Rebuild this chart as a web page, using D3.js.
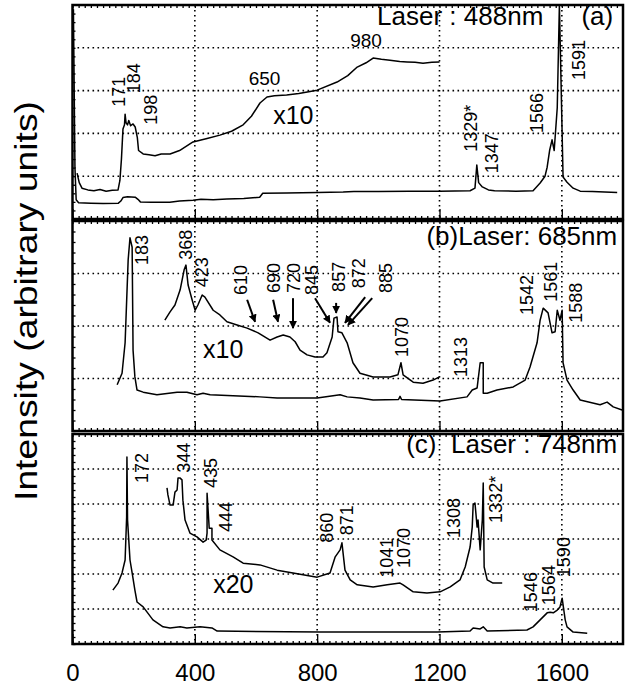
<!DOCTYPE html>
<html lang="en">
<head>
<meta charset="utf-8">
<title>Raman spectra, three laser lines</title>
<script src="https://cdn.jsdelivr.net/npm/d3@7"></script>
<style>
  body { margin: 0; background: #fff; }
  svg text { font-family: "Liberation Sans", Arial, Helvetica, sans-serif; fill: #000; }
  .grid { stroke: #000; stroke-width: 1.6; stroke-dasharray: 1.6,3.4; }
  .spec { fill: none; stroke: #000; stroke-width: 1.5; stroke-linejoin: round; }
  .frame { fill: none; stroke: #000; stroke-width: 2.5; }
  .tick line { stroke: #000; stroke-width: 1.3; }
  .domain { display: none; }
</style>
</head>
<body>
<script>

var w = 634;
var h = 687;

// wavenumber (cm-1) vs intensity, intensity in grid divisions of each panel
var xTicks = [0, 400, 800, 1200, 1600];

// (a) laser 488nm
var a_base = [[3, 4.9], [8, 1.2], [12, 0.45], [20, 0.38], [60, 0.37], [100, 0.36], [150, 0.37],
  [158, 0.42], [165, 0.5], [180, 0.52], [205, 0.51], [214, 0.46], [222, 0.4], [260, 0.39],
  [318, 0.39], [350, 0.42], [394, 0.44], [420, 0.46], [460, 0.45], [505, 0.47], [560, 0.48],
  [612, 0.51], [622, 0.6], [700, 0.61], [800, 0.62], [885, 0.63], [920, 0.64], [1000, 0.64],
  [1100, 0.65], [1200, 0.65], [1300, 0.66], [1316, 0.72], [1322, 1.26], [1328, 0.85],
  [1340, 0.75], [1360, 0.68], [1380, 0.66], [1450, 0.65], [1506, 0.66], [1529, 0.84],
  [1545, 1.0], [1552, 1.21], [1560, 1.6], [1568, 1.85], [1575, 1.6], [1585, 2.6], [1592, 5.0],
  [1598, 3.0], [1604, 0.98], [1617, 0.86], [1637, 0.72], [1660, 0.65], [1700, 0.64],
  [1740, 0.63], [1781, 0.62]];

var a_x10 = [[15, 1.07], [22, 0.85], [31, 0.72], [50, 0.68], [70, 0.66], [90, 0.69], [110, 0.65],
  [130, 0.67], [149, 0.68], [155, 0.9], [160, 1.4], [165, 2.1], [170, 2.2], [172, 2.45],
  [175, 2.25], [180, 2.2], [184, 2.3], [190, 2.18], [198, 2.22], [205, 2.15], [212, 1.9],
  [216, 1.6], [231, 1.52], [250, 1.5], [270, 1.48], [290, 1.52], [319, 1.52], [350, 1.6],
  [394, 1.8], [440, 1.88], [482, 1.96], [520, 2.05], [558, 2.2], [585, 2.4], [613, 2.71],
  [636, 2.85], [660, 2.88], [700, 2.9], [740, 2.93], [800, 3.01], [865, 3.2], [900, 3.35],
  [931, 3.55], [960, 3.65], [983, 3.76], [1010, 3.73], [1038, 3.71], [1070, 3.68],
  [1094, 3.67], [1120, 3.66], [1146, 3.64], [1175, 3.66], [1200, 3.67]];

// (b) laser 685nm
var b_base = [[146, 0.88], [162, 1.1], [172, 1.68], [182, 3.26], [188, 3.68], [195, 3.5],
  [198, 1.54], [204, 1.03], [211, 0.78], [231, 0.74], [276, 0.69], [342, 0.74], [374, 0.74],
  [407, 0.69], [427, 0.72], [450, 0.69], [613, 0.65], [669, 0.63], [800, 0.63], [852, 0.67],
  [875, 0.69], [898, 0.65], [940, 0.63], [983, 0.59], [1066, 0.6], [1071, 0.66], [1076, 0.6],
  [1202, 0.57], [1290, 0.65], [1307, 0.78], [1323, 0.82], [1333, 1.3], [1343, 1.3],
  [1343, 0.72], [1356, 0.72], [1388, 0.78], [1441, 0.84], [1480, 0.97], [1496, 1.22],
  [1519, 1.68], [1529, 2.11], [1539, 2.34], [1555, 2.25], [1568, 1.87], [1578, 1.89],
  [1585, 2.3], [1594, 2.11], [1601, 2.3], [1604, 1.3], [1617, 0.97], [1637, 0.78],
  [1660, 0.59], [1725, 0.5], [1748, 0.55], [1768, 0.46], [1797, 0.4]];

var b_x10 = [[302, 2.11], [319, 2.27], [335, 2.4], [352, 2.69], [365, 3.07], [371, 3.16],
  [378, 2.78], [391, 2.5], [401, 2.3], [410, 2.4], [424, 2.59], [433, 2.55], [460, 2.3],
  [482, 2.21], [505, 2.08], [538, 2.02], [571, 1.96], [607, 1.87], [646, 1.73], [669, 1.79],
  [689, 1.83], [711, 1.79], [728, 1.7], [744, 1.54], [767, 1.45], [793, 1.41], [819, 1.41],
  [832, 1.49], [849, 1.79], [855, 2.15], [865, 2.17], [868, 1.89], [881, 1.87], [898, 1.68],
  [917, 1.3], [940, 1.1], [983, 1.03], [1038, 1.03], [1064, 1.07], [1074, 1.3], [1081, 1.07],
  [1114, 0.93], [1146, 0.91], [1179, 0.97], [1200, 1.03]];

// (c) laser 748nm
var c_base = [[132, 1.54], [149, 1.74], [162, 2.03], [172, 2.4], [177, 3.63], [178, 5.34],
  [180, 3.54], [188, 2.4], [195, 2.03], [204, 1.54], [211, 1.2], [231, 1.06], [263, 0.69],
  [296, 0.49], [319, 0.46], [352, 0.49], [374, 0.46], [417, 0.49], [456, 0.46], [473, 0.37],
  [809, 0.34], [1192, 0.34], [1300, 0.37], [1310, 0.46], [1333, 0.43], [1343, 0.49],
  [1356, 0.37], [1486, 0.4], [1506, 0.49], [1529, 0.69], [1552, 0.89], [1562, 0.91],
  [1572, 0.89], [1585, 0.97], [1594, 1.06], [1601, 1.31], [1611, 0.69], [1617, 0.49],
  [1637, 0.34], [1683, 0.31]];

var c_x20 = [[309, 4.46], [312, 4.26], [319, 3.97], [329, 3.97], [335, 4.34], [342, 4.4],
  [345, 4.74], [352, 4.74], [358, 4.69], [361, 4.11], [368, 3.54], [384, 3.17], [407, 3.06],
  [427, 2.91], [437, 2.97], [440, 3.17], [440, 4.31], [447, 3.31], [456, 3.31], [456, 2.97],
  [482, 2.69], [525, 2.49], [558, 2.31], [613, 2.26], [669, 2.11], [721, 2.03], [800, 1.91],
  [842, 2.03], [859, 2.49], [875, 2.69], [881, 2.89], [891, 2.11], [908, 1.83], [931, 1.69],
  [983, 1.63], [1029, 1.69], [1071, 1.74], [1081, 1.69], [1114, 1.49], [1159, 1.46],
  [1202, 1.49], [1235, 1.63], [1267, 1.83], [1284, 2.2], [1300, 2.77], [1307, 3.34],
  [1310, 3.97], [1316, 4.03], [1323, 3.34], [1326, 3.54], [1333, 2.69], [1340, 3.54],
  [1343, 4.6], [1346, 2.2], [1356, 1.83], [1375, 1.74], [1405, 1.74]];

// peak labels (rotated): text, wavenumber, height
var a_peaks = [["171", 172, 2.62], ["184", 221, 2.94], ["198", 276, 2.2], ["1329*", 1323, 1.57],
  ["1347", 1392, 1.07], ["1566", 1539, 2.01], ["1591", 1676, 3.25]];
var b_peaks = [["183", 247, 3.16], ["368", 391, 3.26], ["423", 443, 2.74], ["610", 571, 2.59],
  ["690", 679, 2.63], ["720", 744, 2.63], ["845", 803, 2.59], ["857", 891, 2.65],
  ["872", 957, 2.72], ["885", 1045, 2.63], ["1070", 1097, 1.41], ["1313", 1290, 1.03],
  ["1542", 1506, 2.21], ["1561", 1585, 2.46], ["1588", 1666, 2.06]];
var c_peaks = [["172", 247, 4.6], ["344", 384, 4.89], ["435", 473, 4.46], ["444", 522, 3.2],
  ["860", 852, 2.89], ["871", 917, 3.11], ["1041", 1048, 1.89], ["1070", 1104, 2.17],
  ["1308", 1267, 3.03], ["1332*", 1405, 3.46], ["1546", 1519, 0.91], ["1564", 1578, 1.11],
  ["1590", 1627, 1.91]];

// horizontal notes: text, wavenumber, height, anchor, size
var a_notes = [["Laser : 488nm", 996, 4.53, "start", 26], ["(a)", 1768, 4.53, "end", 26],
  ["650", 628, 3.13, "middle", 19], ["980", 960, 4.02, "middle", 19], ["x10", 656, 2.22, "start", 25]];
var b_notes = [["(b)Laser: 685nm", 1781, 3.54, "end", 26], ["x10", 427, 1.39, "start", 25]];
var c_notes = [["(c)  Laser : 748nm", 1781, 5.46, "end", 26], ["x20", 460, 1.46, "start", 25]];

// arrows in (b): from [x, y] to [x, y]
var b_arrows = [[[571, 2.5], [597, 2.08]], [[656, 2.5], [672, 2.08]], [[721, 2.53], [721, 1.96]],
  [[793, 2.53], [842, 2.06]], [[862, 2.44], [862, 2.25]], [[957, 2.55], [891, 2.06]],
  [[980, 2.53], [901, 2.02]]];

var panels = [
  {top: 5, bottom: 219, divs: 5, lines: [a_base, a_x10], peaks: a_peaks, notes: a_notes, arrows: []},
  {top: 221, bottom: 431, divs: 4, lines: [b_base, b_x10], peaks: b_peaks, notes: b_notes, arrows: b_arrows},
  {top: 434, bottom: 644, divs: 6, lines: [c_base, c_x20], peaks: c_peaks, notes: c_notes, arrows: []}
];

var svg = d3.select("body").append("svg")
  .attr("width", w)
  .attr("height", h);

svg.append("defs").append("marker")
  .attr("id", "head")
  .attr("viewBox", "0 0 10 10")
  .attr("refX", 9).attr("refY", 5)
  .attr("markerWidth", 4).attr("markerHeight", 4)
  .attr("orient", "auto")
  .append("path").attr("d", "M0,0L10,5L0,10z").attr("fill", "#000");

var xScale = d3.scaleLinear().domain([0, 1800]).range([72.5, 623]);

panels.forEach(function(p, i) {
  var yScale = d3.scaleLinear().domain([0, p.divs]).range([p.bottom, p.top]);
  var g = svg.append("g");

  // dotted grid
  g.selectAll(".hg").data(d3.range(1, p.divs)).enter().append("line")
    .attr("class", "grid")
    .attr("x1", xScale(0)).attr("x2", xScale(1800))
    .attr("y1", d => yScale(d)).attr("y2", d => yScale(d));
  g.selectAll(".vg").data(xTicks.slice(1)).enter().append("line")
    .attr("class", "grid")
    .attr("x1", d => xScale(d)).attr("x2", d => xScale(d))
    .attr("y1", p.top).attr("y2", p.bottom);

  // minor comb ticks on the frame
  g.append("g").attr("transform", `translate(0, ${p.bottom})`)
    .call(d3.axisBottom(xScale).tickValues(d3.range(0, 1800, 20)).tickSize(-3).tickFormat(""));
  g.append("g").attr("transform", `translate(0, ${p.top})`)
    .call(d3.axisTop(xScale).tickValues(d3.range(0, 1800, 20)).tickSize(-3).tickFormat(""));
  g.append("g").attr("transform", `translate(${xScale(0)}, 0)`)
    .call(d3.axisLeft(yScale).tickValues(d3.range(0, p.divs, 0.2)).tickSize(-3).tickFormat(""));

  // major ticks, labels only on the last panel
  var ax = d3.axisBottom(xScale).tickValues(xTicks).tickSize(-10).tickPadding(20)
    .tickFormat(d3.format("d"));
  if (i < panels.length - 1) ax.tickFormat("");
  var axg = g.append("g").attr("transform", `translate(0, ${p.bottom})`).call(ax);
  axg.selectAll("text").attr("font-size", 24).attr("font-family", null);
  axg.selectAll(".tick line").attr("stroke-width", 2);

  g.append("rect").attr("class", "frame")
    .attr("x", xScale(0)).attr("y", p.top)
    .attr("width", xScale(1800) - xScale(0)).attr("height", p.bottom - p.top);

  var lineGen = d3.line()
    .x(d => xScale(d[0]))
    .y(d => yScale(d[1]));

  g.selectAll(".spec").data(p.lines).enter().append("path")
    .attr("class", "spec")
    .attr("d", lineGen);

  g.selectAll(".pk").data(p.peaks).enter().append("text")
    .attr("font-size", 18)
    .attr("transform", d => `translate(${xScale(d[1])}, ${yScale(d[2])}) rotate(-90)`)
    .text(d => d[0]);

  g.selectAll(".nt").data(p.notes).enter().append("text")
    .attr("x", d => xScale(d[1]))
    .attr("y", d => yScale(d[2]))
    .attr("text-anchor", d => d[3])
    .attr("font-size", d => d[4])
    .style("white-space", "pre")
    .text(d => d[0]);

  g.selectAll(".ar").data(p.arrows).enter().append("line")
    .attr("x1", d => xScale(d[0][0])).attr("y1", d => yScale(d[0][1]))
    .attr("x2", d => xScale(d[1][0])).attr("y2", d => yScale(d[1][1]))
    .attr("stroke", "#000").attr("stroke-width", 2)
    .attr("marker-end", "url(#head)");
});

svg.append("text")
  .attr("transform", "translate(37, 301) rotate(-90)")
  .attr("text-anchor", "middle")
  .attr("font-size", 31)
  .attr("textLength", 400)
  .attr("lengthAdjust", "spacingAndGlyphs")
  .text("Intensity (arbitrary units)");

</script>
</body>
</html>
